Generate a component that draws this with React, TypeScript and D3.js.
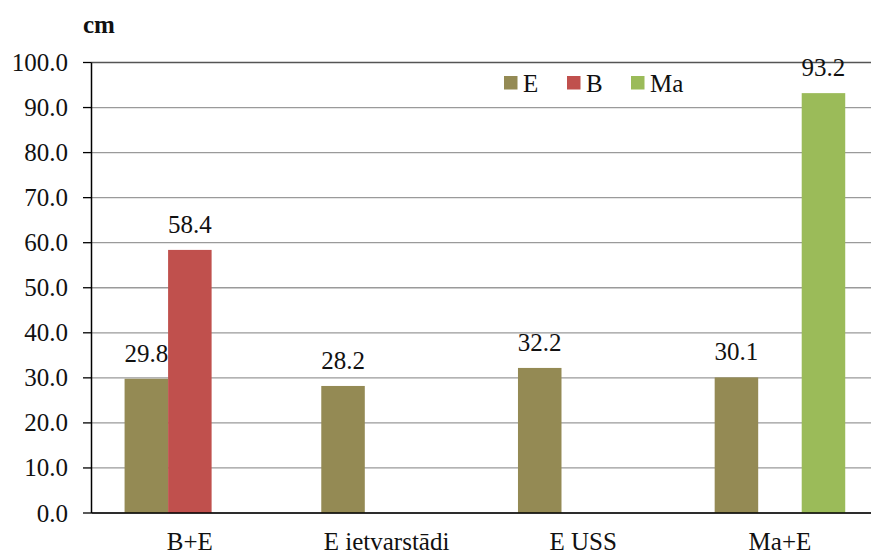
import React, { useEffect, useRef } from "react";
import * as d3 from "d3";

const categories = ["B+E", "E ietvarstādi", "E USS", "Ma+E"];
const seriesNames = ["E", "B", "Ma"];
const seriesColors = ["#948A54", "#C0504D", "#9BBB59"];
const valuesE: (number | null)[] = [29.8, 28.2, 32.2, 30.1];
const valuesB: (number | null)[] = [58.4, null, null, null];
const valuesMa: (number | null)[] = [null, null, null, 93.2];
const yTicks = [0, 10, 20, 30, 40, 50, 60, 70, 80, 90, 100];

const W = 871;
const H = 553;
const left = 91.5;
const right = 878.3;
const top = 62.5;
const bottom = 513;
const FONT = "Liberation Serif";

export default function App() {
  const ref = useRef<SVGSVGElement | null>(null);

  useEffect(() => {
    const svg = d3.select(ref.current);
    svg.selectAll("*").remove();
    const series = [valuesE, valuesB, valuesMa];
    const x0 = d3.scaleBand<string>().domain(categories).range([left, right]).paddingInner(0).paddingOuter(0);
    const x1 = d3
      .scaleBand<string>()
      .domain(seriesNames)
      .range([0, x0.bandwidth()])
      .paddingInner(0)
      .paddingOuter(0.76);
    const y = d3.scaleLinear().domain([0, 100]).range([bottom, top]);

    svg.append("rect").attr("x", 0).attr("y", 0).attr("width", W).attr("height", H).attr("fill", "#fff");

    svg
      .selectAll("line.grid")
      .data(yTicks)
      .join("line")
      .attr("class", "grid")
      .attr("x1", left)
      .attr("x2", W)
      .attr("y1", (d) => y(d))
      .attr("y2", (d) => y(d))
      .attr("stroke", (d) => (d === 100 ? "#555" : "#9a9a9a"))
      .attr("stroke-width", 1.3);

    const items: { si: number; ci: number; v: number }[] = [];
    series.forEach((vals, si) =>
      vals.forEach((v, ci) => {
        if (v != null) items.push({ si, ci, v });
      })
    );

    svg
      .selectAll("rect.bar")
      .data(items)
      .join("rect")
      .attr("class", "bar")
      .attr("x", (d) => (x0(categories[d.ci]) ?? 0) + (x1(seriesNames[d.si]) ?? 0))
      .attr("y", (d) => y(d.v))
      .attr("width", x1.bandwidth())
      .attr("height", (d) => bottom - y(d.v))
      .attr("fill", (d) => seriesColors[d.si]);

    svg
      .selectAll("text.val")
      .data(items)
      .join("text")
      .attr("class", "val")
      .attr("x", (d) => (x0(categories[d.ci]) ?? 0) + (x1(seriesNames[d.si]) ?? 0) + x1.bandwidth() / 2)
      .attr("y", (d) => y(d.v) - 17)
      .attr("text-anchor", "middle")
      .attr("font-family", FONT)
      .attr("font-size", 25)
      .attr("fill", "#111")
      .text((d) => d.v.toFixed(1));

    svg.append("line").attr("x1", left).attr("x2", left).attr("y1", top).attr("y2", bottom).attr("stroke", "#000").attr("stroke-width", 1.5);
    svg.append("line").attr("x1", left).attr("x2", W).attr("y1", bottom).attr("y2", bottom).attr("stroke", "#000").attr("stroke-width", 1.5);

    const tk = svg.selectAll("g.tick").data(yTicks).join("g").attr("class", "tick");
    tk.append("line")
      .attr("x1", 83)
      .attr("x2", left)
      .attr("y1", (d) => y(d))
      .attr("y2", (d) => y(d))
      .attr("stroke", "#000")
      .attr("stroke-width", 1.3);
    tk.append("text")
      .attr("x", 68)
      .attr("y", (d) => y(d) + 8.5)
      .attr("text-anchor", "end")
      .attr("font-family", FONT)
      .attr("font-size", 25)
      .attr("fill", "#111")
      .text((d) => d.toFixed(1));

    svg
      .selectAll("text.cat")
      .data(categories)
      .join("text")
      .attr("class", "cat")
      .attr("x", (d) => (x0(d) ?? 0) + x0.bandwidth() / 2)
      .attr("y", 550)
      .attr("text-anchor", "middle")
      .attr("font-family", FONT)
      .attr("font-size", 25)
      .attr("fill", "#111")
      .text((d) => d);

    svg
      .append("text")
      .attr("x", 83)
      .attr("y", 33)
      .attr("font-family", FONT)
      .attr("font-size", 25)
      .attr("font-weight", "bold")
      .attr("fill", "#111")
      .text("cm");

    const legX = [504, 567, 631];
    const lg = svg.selectAll("g.leg").data(seriesNames).join("g").attr("class", "leg");
    lg.append("rect")
      .attr("x", (_d, i) => legX[i])
      .attr("y", 76)
      .attr("width", 13.5)
      .attr("height", 13.5)
      .attr("fill", (_d, i) => seriesColors[i]);
    lg.append("text")
      .attr("x", (_d, i) => legX[i] + 19)
      .attr("y", 91.5)
      .attr("font-family", FONT)
      .attr("font-size", 25)
      .attr("fill", "#111")
      .text((d) => d);
  }, []);

  return (
    <div style={{ position: "absolute", left: 0, top: 0, width: W, height: H, overflow: "hidden" }}>
      <svg ref={ref} width={W} height={H} />
    </div>
  );
}
